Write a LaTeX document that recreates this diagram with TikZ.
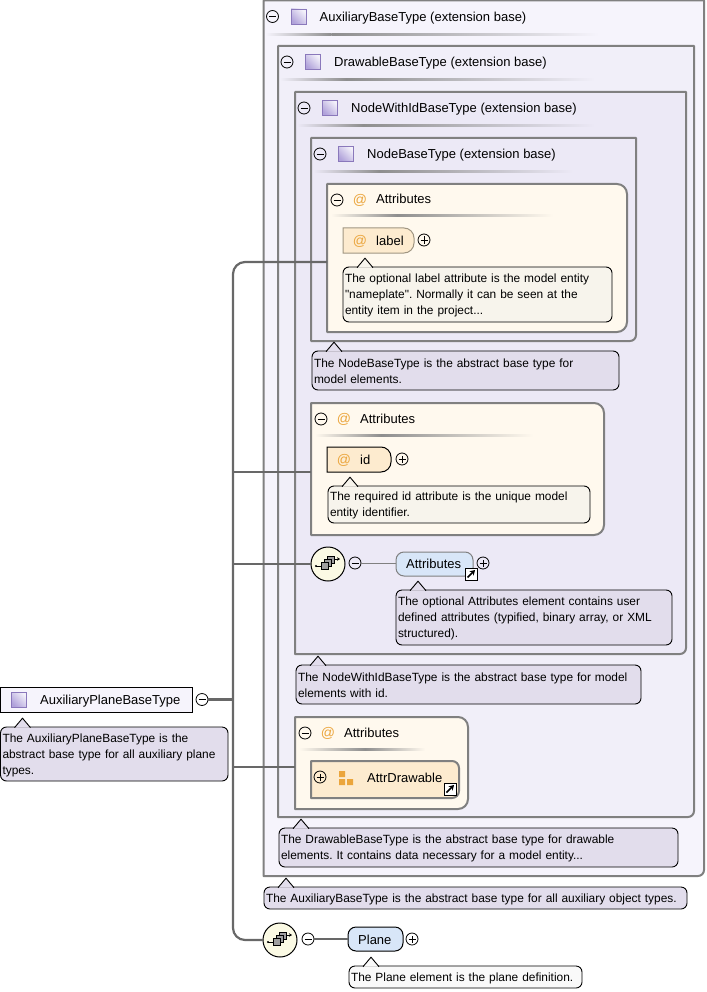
\documentclass[tikz,border=0pt]{standalone}
\usepackage{fontspec}
\setmainfont{Liberation Sans}[Ligatures=TeXOff]
\frenchspacing
\usetikzlibrary{arrows.meta}
\definecolor{bgaux}{HTML}{F6F4FC}
\definecolor{bgdraw}{HTML}{F1EFF9}
\definecolor{bgwith}{HTML}{ECE9F6}
\definecolor{bgattr}{HTML}{FFF9EE}
\definecolor{docpurple}{HTML}{E2DDEC}
\definecolor{doccream}{HTML}{F7F4EC}
\definecolor{docpale}{HTML}{F9F9F9}
\definecolor{framegray}{HTML}{808080}
\definecolor{linegray}{HTML}{686868}
\definecolor{pillblue}{HTML}{D8E6F8}
\definecolor{pillsand}{HTML}{FDEBCF}
\definecolor{atorange}{HTML}{EBA53C}
\definecolor{seppeak}{HTML}{8E8E8E}
\tikzset{
  hitbox/.style={anchor=north west,inner sep=0pt,outer sep=0pt},
  boxframe/.style={draw=framegray,line width=2pt,line join=round},
  headtext/.style={anchor=base west,inner sep=0pt,font=\fontsize{13}{16}\selectfont},
  typeicon/.style={rectangle,draw={rgb,255:red,138;green,120;blue,187},line width=.9pt,minimum size=15pt,inner sep=0pt,
    bottom color={rgb,255:red,176;green,162;blue,218},top color={rgb,255:red,243;green,241;blue,250},shading angle=-45},
  btnbase/.style={circle,draw=black,line width=.8pt,minimum size=12pt,inner sep=0pt,outer sep=0pt},
  btnminus/.style={btnbase,path picture={\draw[line width=.8pt] ([xshift=-3.5pt]path picture bounding box.center) -- ([xshift=3.5pt]path picture bounding box.center);}},
  btnplus/.style={btnbase,path picture={\draw[line width=.8pt] ([xshift=-3.5pt]path picture bounding box.center) -- ([xshift=3.5pt]path picture bounding box.center) ([yshift=-3.5pt]path picture bounding box.center) -- ([yshift=3.5pt]path picture bounding box.center);}},
  atglyph/.style={inner sep=0pt,text=atorange,font=\fontsize{14}{16}\selectfont},
  docbox/.style={hitbox,draw=black,line width=.9pt,rounded corners=6pt,inner xsep=2pt,align=left,font=\fontsize{11.9}{16}\selectfont},
  pill/.style={hitbox,rounded corners=8pt,line width=1pt},
  jumpbox/.style={rectangle,draw=black,fill=white,line width=1pt,minimum size=12pt,inner sep=0pt},
  trunkline/.style={draw=linegray,line width=2.2pt},
  thinline/.style={draw=framegray,line width=1pt},
  choicedisc/.style={circle,draw=black,line width=1pt,fill={rgb,255:red,251;green,250;blue,228},minimum size=34pt,inner sep=0pt,outer sep=0pt},
  stackbox/.style={draw=black,line width=1pt,fill=gray!75}
}
\newcommand{\fadesep}[5]{% x0, peak, x1, y, fill
  \shade[left color=#5,right color=seppeak] (#1,#4) rectangle (#2,#4+2);
  \shade[left color=seppeak,right color=#5] (#2,#4) rectangle (#3,#4+2);
}
\newcommand{\typebox}[8]{%
  \node[hitbox,minimum width={#4pt-#2pt},minimum height={#5pt-#3pt}] (#1) at (#2,#3) {};
  \draw[boxframe,fill=#6] (#1.north west) -- (#1.north east) [rounded corners=6pt] -- (#1.south east) [sharp corners] -- (#1.south west) -- cycle;
  \node[btnminus] (#1minus) at (#2+9,#3+16) {};
  \node[typeicon] (#1icon) at (#2+35,#3+16) {};
  \node[headtext] (#1title) at (#2+56,#3+21) {#7};
  \fadesep{#2+2}{#2+68}{#2+#8}{#3+33}{#6}
}
\newcommand{\attrbox}[6]{%
  \node[hitbox,minimum width={#4pt-#2pt},minimum height={#5pt-#3pt}] (#1) at (#2,#3) {};
  \draw[boxframe,fill=bgattr] (#1.north west) [rounded corners=10pt] -- (#1.north east) -- (#1.south east) [sharp corners] -- (#1.south west) -- cycle;
  \node[btnminus] (#1minus) at (#2+10,#3+16) {};
  \node[atglyph] (#1at) at (#2+33,#3+16.5) {@};
  \node[headtext] (#1title) at (#2+49,#3+20) {Attributes};
  \fadesep{#2+4}{#2+70}{#2+#6}{#3+31}{bgattr}
}
\newcommand{\docnote}[7]{%
  \node[docbox,fill=#6,minimum width={#4pt-#2pt},minimum height={#5pt-#3pt},text width={#4pt-#2pt-4pt}] (#1) at (#2,#3) {\rule{0pt}{11pt}#7};
  \path[draw=black,line width=.9pt,fill=#6] ([xshift=14pt,yshift=-.7pt]#1.north west) -- ++(8,-9.5) -- ++(8,9.5);
}
\newcommand{\jumpmark}[3]{%
  \node[jumpbox] (#1) at (#2,#3) {};
  \draw[-{Stealth[length=5pt,width=6pt]},line width=1.6pt] ([shift={(-3.5pt,-3.5pt)}]#1.center) -- ([shift={(4pt,4pt)}]#1.center);
}
\newcommand{\choicemark}[3]{%
  \node[choicedisc] (#1) at (#2,#3) {};
  \draw[line width=1pt,-{Stealth[length=3pt,width=3.5pt]}] (#2+5,#3-5) -- (#2+12,#3-5);
  \draw[line width=1pt] (#2-12,#3+2) -- (#2-7,#3+2);
  \fill (#2-12,#3+2) circle (1.2pt);
  \path[stackbox] (#2-1,#3-8) rectangle (#2+6,#3-1);
  \path[stackbox] (#2-4,#3-5) rectangle (#2+3,#3+2);
  \path[stackbox] (#2-7,#3-2) rectangle (#2,#3+5);
}
\begin{document}
\begin{tikzpicture}[x=1pt,y=-1pt,line cap=butt]
\useasboundingbox (0,0) rectangle (706,992);
\typebox{auxbase}{263.5}{0.5}{704}{876}{bgaux}{AuxiliaryBaseType (extension base)}{335}
\typebox{drawbase}{278}{46}{694}{817}{bgdraw}{DrawableBaseType (extension base)}{317}
\typebox{withid}{295}{92}{686}{654}{bgwith}{NodeWithIdBaseType (extension base)}{300}
\typebox{nodebase}{311}{138}{636}{341}{bgwith}{NodeBaseType (extension base)}{262}
% attribute groups
\attrbox{attrlabel}{327}{184}{627}{332}{226}
\node[pill,sharp corners,minimum width=71pt,minimum height=25pt] (labelpill) at (343,228) {};
\draw[draw={rgb,255:red,160;green,150;blue,130},line width=1pt,fill=pillsand] (labelpill.north west) [rounded corners=10pt] -- (labelpill.north east) -- (labelpill.south east) [sharp corners] -- (labelpill.south west) -- cycle;
\node[atglyph] (labelat) at (360,241) {@};
\node[headtext] (labeltext) at (376,245) {label};
\node[btnplus] (labelplus) at (424,240) {};
\docnote{labeldoc}{343}{267}{612}{322}{doccream}{The optional label attribute is the model entity\\"nameplate". Normally it can be seen at the\\entity item in the project...}
\docnote{nodedoc}{312}{351}{619}{390}{docpurple}{The NodeBaseType is the abstract base type for\\model elements.}
\attrbox{attrid}{311}{403}{604}{535}{222}
\node[pill,sharp corners,minimum width=64pt,minimum height=25pt] (idpill) at (327,447) {};
\draw[draw=black,line width=1pt,fill=pillsand] (idpill.north west) [rounded corners=10pt] -- (idpill.north east) -- (idpill.south east) [sharp corners] -- (idpill.south west) -- cycle;
\node[atglyph] (idat) at (344,460) {@};
\node[headtext] (idtext) at (360,464) {id};
\node[btnplus] (idplus) at (402,459) {};
\docnote{iddoc}{328}{486}{590}{523}{doccream}{The required id attribute is the unique model\\entity identifier.}
% element with its sequence mark
\choicemark{seqattrs}{328}{564}
\node[btnminus] (seqattrsminus) at (355,563) {};
\node[pill,draw=framegray,fill=pillblue,minimum width=77pt,minimum height=24pt] (attrspill) at (396,552) {};
\node[headtext] (attrstext) at (406,568) {Attributes};
\node[btnplus] (attrsplus) at (483,563) {};
\jumpmark{attrsjump}{471}{574}
\docnote{attrsdoc}{396}{590}{672}{645}{docpurple}{The optional Attributes element contains user\\defined attributes (typified, binary array, or XML\\structured).}
\docnote{withiddoc}{296}{665}{641}{704}{docpurple}{The NodeWithIdBaseType is the abstract base type for model\\elements with id.}
\attrbox{attrdraw}{295}{717}{468}{809}{130}
\node[hitbox,minimum width=148pt,minimum height=37pt] (drawgroup) at (311,761) {};
\draw[boxframe,fill=pillsand] (drawgroup.north west) [rounded corners=7pt] -- (drawgroup.north east) -- (drawgroup.south east) [sharp corners] -- (drawgroup.south west) -- cycle;
\node[btnplus] (drawplus) at (320,777) {};
\fill[atorange] (339,771) rectangle (345,777) (339,779) rectangle (345,785) (347,779) rectangle (353,785);
\node[headtext] (drawtext) at (367,782) {AttrDrawable};
\jumpmark{drawjump}{450}{789}
\docnote{drawdoc}{279}{828}{678}{867}{docpurple}{The DrawableBaseType is the abstract base type for drawable\\elements. It contains data necessary for a model entity...}
\docnote{auxdoc}{264}{887}{687}{909}{docpurple}{The AuxiliaryBaseType is the abstract base type for all auxiliary object types.}
% bottom sequence
\choicemark{seqplane}{280}{940}
\node[btnminus] (seqplaneminus) at (308,939) {};
\node[pill,draw=black,fill=pillblue,minimum width=55pt,minimum height=24pt] (planepill) at (348,927) {};
\node[headtext] (planetext) at (358,944) {Plane};
\node[btnplus] (planeplus) at (412,939) {};
\docnote{planedoc}{349}{966}{582}{988}{docpale}{The Plane element is the plane definition.}
% root type
\node[hitbox,draw=black,line width=1pt,fill=bgaux,minimum width=191.5pt,minimum height=25pt] (root) at (.5,687) {};
\node[typeicon] (rooticon) at (19,699.5) {};
\node[headtext] (roottext) at (40,704) {AuxiliaryPlaneBaseType};
\node[btnminus] (rootminus) at (202,699.5) {};
\docnote{rootdoc}{.5}{727}{228}{781}{docpurple}{The AuxiliaryPlaneBaseType is the\\abstract base type for all auxiliary plane\\types.}
% connectors
\coordinate (trunk) at (233,699.5);
\coordinate (labelin) at ([yshift=-4pt]attrlabel.west);
\coordinate (idin) at ([yshift=-3pt]attrid.west);
\coordinate (drawin) at ([yshift=-4pt]attrdraw.west);
\draw[trunkline] (rootminus.east) -- (trunk);
\draw[trunkline,rounded corners=12pt] (labelin) -| (trunk) |- (seqplane.west);
\draw[trunkline] (idin) -- (trunk |- idin);
\draw[trunkline] (seqattrs.west) -- (trunk |- seqattrs.west);
\draw[trunkline] (drawin) -- (trunk |- drawin);
\draw[thinline] (seqattrsminus.east) -- (attrspill.west |- seqattrsminus.east);
\draw[trunkline,line width=1.4pt] (seqplaneminus.east) -- (planepill.west |- seqplaneminus.east);
\end{tikzpicture}
\end{document}
